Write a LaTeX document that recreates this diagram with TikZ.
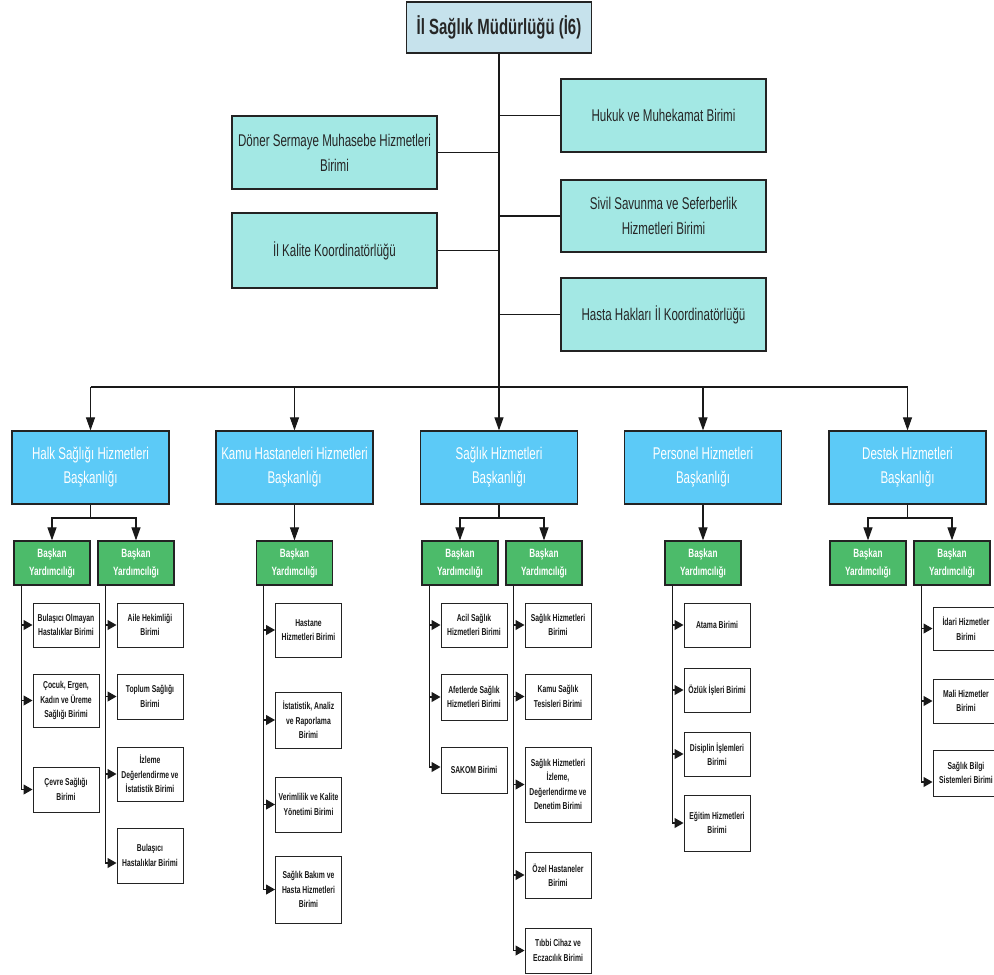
\documentclass[tikz,border=0pt]{standalone}
\usepackage{fontspec}
\setmainfont{Liberation Sans}[FakeStretch=0.68]
\usetikzlibrary{arrows.meta}

\definecolor{headfill}{RGB}{198,226,236}
\definecolor{stafffill}{RGB}{163,232,228}
\definecolor{deptfill}{RGB}{92,202,247}
\definecolor{vicefill}{RGB}{76,187,106}
\definecolor{edge}{RGB}{35,35,35}

\tikzset{
  box/.style={draw=edge, line width=1.2pt, inner sep=1pt, align=center},
  headbox/.style={box, fill=headfill, minimum width=185pt, minimum height=51pt,
    text=black!85, font=\bfseries\fontsize{22}{26}\selectfont},
  staffbox/.style={box, fill=stafffill, minimum width=205pt,
    text=black!85, font=\fontsize{17}{25}\selectfont},
  deptbox/.style={box, fill=deptfill, minimum width=157pt, minimum height=73pt,
    text=white, font=\fontsize{17}{24}\selectfont},
  vicebox/.style={box, fill=vicefill, minimum width=76pt, minimum height=44pt,
    text=white, font=\bfseries\fontsize{12}{18}\selectfont},
  unitbox/.style={box, fill=white, line width=1pt, minimum width=66pt,
    text=black!90, font=\bfseries\fontsize{10}{14.5}\selectfont},
  link/.style={draw=black!90, line width=1.1pt},
  arr/.style={link, -{Triangle[length=13pt,width=9pt]}},
  uarr/.style={link, -{Triangle[length=9pt,width=10pt]}},
}

\begin{document}
\begin{tikzpicture}[x=1pt, y=-1pt]
\useasboundingbox (0,0) rectangle (994,975);

% --- directorate and staff units ---
\node[headbox] (head) at (499,27.5) {İl Sağlık Müdürlüğü (İ6)};

\node[staffbox, minimum height=73pt] (doner)  at (334.5,152.5) {Döner Sermaye Muhasebe Hizmetleri\\Birimi};
\node[staffbox, minimum height=75pt] (kalite) at (334.5,250.5) {İl Kalite Koordinatörlüğü};
\node[staffbox, minimum height=73pt] (hukuk)  at (663.5,115.5) {Hukuk ve Muhekamat Birimi};
\node[staffbox, minimum height=72pt] (sivil)  at (663.5,216)   {Sivil Savunma ve Seferberlik\\Hizmetleri Birimi};
\node[staffbox, minimum height=73pt] (hasta)  at (663.5,314.5) {Hasta Hakları İl Koordinatörlüğü};

% --- departments ---
\node[deptbox] (halk) at (90.5,467.5)  {Halk Sağlığı Hizmetleri\\Başkanlığı};
\node[deptbox] (kamu) at (294.5,467.5) {Kamu Hastaneleri Hizmetleri\\Başkanlığı};
\node[deptbox] (sag)  at (499,467.5)   {Sağlık Hizmetleri\\Başkanlığı};
\node[deptbox] (pers) at (703,467.5)   {Personel Hizmetleri\\Başkanlığı};
\node[deptbox] (dest) at (907.5,467.5) {Destek Hizmetleri\\Başkanlığı};

% --- deputy heads ---
\node[vicebox] (hlv) at (52,563)    {Başkan\\Yardımcılığı};
\node[vicebox] (hrv) at (136,563)   {Başkan\\Yardımcılığı};
\node[vicebox] (kv)  at (294.5,563) {Başkan\\Yardımcılığı};
\node[vicebox] (slv) at (460,563)   {Başkan\\Yardımcılığı};
\node[vicebox] (srv) at (544,563)   {Başkan\\Yardımcılığı};
\node[vicebox] (pv)  at (703,563)   {Başkan\\Yardımcılığı};
\node[vicebox] (dlv) at (868,563)   {Başkan\\Yardımcılığı};
\node[vicebox] (drv) at (952,563)   {Başkan\\Yardımcılığı};

% --- units: Halk Sağlığı ---
\node[unitbox, minimum height=44pt] (hl1) at (66,625)    {Bulaşıcı Olmayan\\Hastalıklar Birimi};
\node[unitbox, minimum height=53pt] (hl2) at (66,700.5)  {Çocuk, Ergen,\\Kadın ve Üreme\\Sağlığı Birimi};
\node[unitbox, minimum height=45pt] (hl3) at (66,789.5)  {Çevre Sağlığı\\Birimi};
\node[unitbox, minimum height=44pt] (hr1) at (150,625)   {Aile Hekimliği\\Birimi};
\node[unitbox, minimum height=45pt] (hr2) at (150,696.5) {Toplum Sağlığı\\Birimi};
\node[unitbox, minimum height=54pt] (hr3) at (150,774)   {İzleme\\Değerlendirme ve\\İstatistik Birimi};
\node[unitbox, minimum height=55pt] (hr4) at (150,855.5) {Bulaşıcı\\Hastalıklar Birimi};

% --- units: Kamu Hastaneleri ---
\node[unitbox, minimum height=54pt] (k1) at (308.5,630)   {Hastane\\Hizmetleri Birimi};
\node[unitbox, minimum height=56pt] (k2) at (308.5,720)   {İstatistik, Analiz\\ve Raporlama\\Birimi};
\node[unitbox, minimum height=55pt] (k3) at (308.5,804.5) {Verimlilik ve Kalite\\Yönetimi Birimi};
\node[unitbox, minimum height=67pt] (k4) at (308.5,889.5) {Sağlık Bakım ve\\Hasta Hizmetleri\\Birimi};

% --- units: Sağlık Hizmetleri ---
\node[unitbox, minimum height=44pt] (sl1) at (474,625) {Acil Sağlık\\Hizmetleri Birimi};
\node[unitbox, minimum height=46pt] (sl2) at (474,697) {Afetlerde Sağlık\\Hizmetleri Birimi};
\node[unitbox, minimum height=46pt] (sl3) at (474,770) {SAKOM Birimi};
\node[unitbox, minimum height=44pt] (sr1) at (558,625)   {Sağlık Hizmetleri\\Birimi};
\node[unitbox, minimum height=45pt] (sr2) at (558,696.5) {Kamu Sağlık\\Tesisleri Birimi};
\node[unitbox, minimum height=75pt] (sr3) at (558,784.5) {Sağlık Hizmetleri\\İzleme,\\Değerlendirme ve\\Denetim Birimi};
\node[unitbox, minimum height=46pt] (sr4) at (558,875)   {Özel Hastaneler\\Birimi};
\node[unitbox, minimum height=45pt] (sr5) at (558,950.5) {Tıbbi Cihaz ve\\Eczacılık Birimi};

% --- units: Personel ---
\node[unitbox, minimum height=44pt] (p1) at (717,625) {Atama Birimi};
\node[unitbox, minimum height=44pt] (p2) at (717,690) {Özlük İşleri Birimi};
\node[unitbox, minimum height=44pt] (p3) at (717,754) {Disiplin İşlemleri\\Birimi};
\node[unitbox, minimum height=56pt] (p4) at (717,823) {Eğitim Hizmetleri\\Birimi};

% --- units: Destek ---
\node[unitbox, minimum height=43pt] (d1) at (966,628.5) {İdari Hizmetler\\Birimi};
\node[unitbox, minimum height=44pt] (d2) at (966,701)   {Mali Hizmetler\\Birimi};
\node[unitbox, minimum height=46pt] (d3) at (966,773)   {Sağlık Bilgi\\Sistemleri Birimi};

% --- upper connectors ---
\coordinate (bus) at (499,387);
\coordinate (sub) at (0,518);
\draw[arr] (head.south) -- (sag.north);
\foreach \s in {doner,kalite}{\draw[link] (\s.east) -- (\s.east -| head.south);}
\foreach \s in {hukuk,sivil,hasta}{\draw[link] (\s.west) -- (\s.west -| head.south);}
\draw[link] (halk.north |- bus) -- (dest.north |- bus);
\foreach \d in {halk,kamu,pers,dest}{\draw[arr] (\d.north |- bus) -- (\d.north);}

% --- departments to deputy heads ---
\draw[link] (halk.south) -- (halk.south |- sub);
\draw[arr] (halk.south |- sub) -| (hlv.north);
\draw[arr] (halk.south |- sub) -| (hrv.north);
\draw[arr] (kamu.south) -- (kv.north);
\draw[link] (sag.south) -- (sag.south |- sub);
\draw[arr] (sag.south |- sub) -| (slv.north);
\draw[arr] (sag.south |- sub) -| (srv.north);
\draw[arr] (pers.south) -- (pv.north);
\draw[link] (dest.south) -- (dest.south |- sub);
\draw[arr] (dest.south |- sub) -| (dlv.north);
\draw[arr] (dest.south |- sub) -| (drv.north);

% --- spines from deputy heads to units ---
\foreach \v in {hlv,hrv,kv,slv,srv,pv,drv}{
  \coordinate (\v S) at ([xshift=8pt]\v.south west);}
\coordinate (hr4in) at ([yshift=-7.5pt]hr4.west);
\coordinate (sl3in) at ([yshift=3pt]sl3.west);
\coordinate (d3in)  at ([yshift=-9pt]d3.west);

\draw[uarr] (hlvS) |- (hl3.west);
\foreach \u in {hl1,hl2}{\draw[uarr] (hlvS |- \u.west) -- (\u.west);}
\draw[uarr] (hrvS) |- (hr4in);
\foreach \u in {hr1,hr2,hr3}{\draw[uarr] (hrvS |- \u.west) -- (\u.west);}
\draw[uarr] (kvS) |- (k4.west);
\foreach \u in {k1,k2,k3}{\draw[uarr] (kvS |- \u.west) -- (\u.west);}
\draw[uarr] (slvS) |- (sl3in);
\foreach \u in {sl1,sl2}{\draw[uarr] (slvS |- \u.west) -- (\u.west);}
\draw[uarr] (srvS) |- (sr5.west);
\foreach \u in {sr1,sr2,sr3,sr4}{\draw[uarr] (srvS |- \u.west) -- (\u.west);}
\draw[uarr] (pvS) |- (p4.west);
\foreach \u in {p1,p2,p3}{\draw[uarr] (pvS |- \u.west) -- (\u.west);}
\draw[uarr] (drvS) |- (d3in);
\foreach \u in {d1,d2}{\draw[uarr] (drvS |- \u.west) -- (\u.west);}
\end{tikzpicture}
\end{document}
